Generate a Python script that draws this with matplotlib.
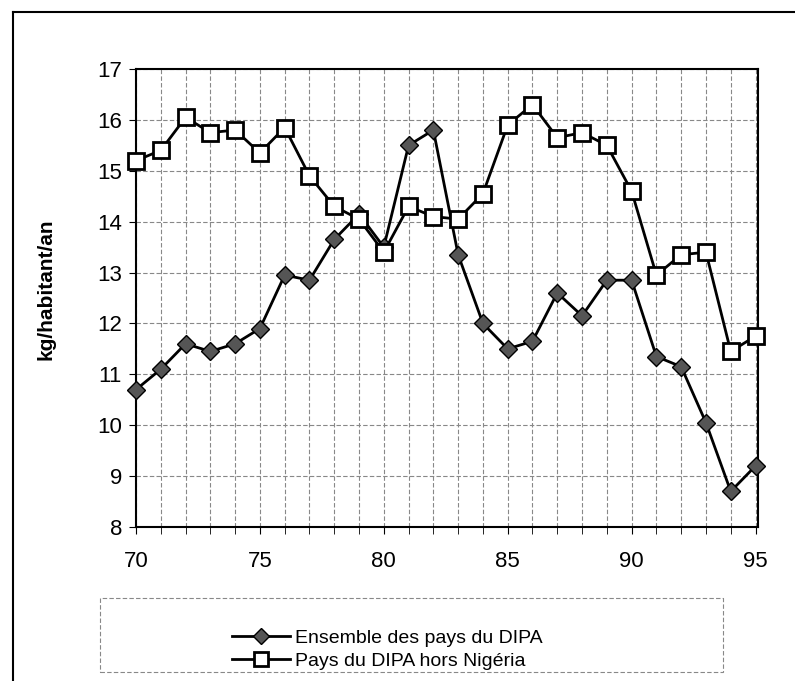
import numpy as np
import matplotlib.pyplot as plt
from matplotlib.patches import Rectangle
from matplotlib.lines import Line2D

plt.rcParams['font.family'] = ['Liberation Sans', 'DejaVu Sans']

years = list(range(70, 96))
ensemble = [10.7, 11.1, 11.6, 11.45, 11.6, 11.9, 12.95, 12.85, 13.65, 14.15,
            13.5, 15.5, 15.8, 13.35, 12.0, 11.5, 11.65, 12.6, 12.15, 12.85,
            12.85, 11.35, 11.15, 10.05, 8.7, 9.2]
hors_nigeria = [15.2, 15.4, 16.05, 15.75, 15.8, 15.35, 15.85, 14.9, 14.3, 14.05,
                13.4, 14.3, 14.1, 14.05, 14.55, 15.9, 16.3, 15.65, 15.75, 15.5,
                14.6, 12.95, 13.35, 13.4, 11.45, 11.75]
label_ensemble = "Ensemble des pays du DIPA"
label_hors = "Pays du DIPA hors Nigéria"

fig = plt.figure(figsize=(7.95, 6.81), dpi=100)
ax = fig.add_axes([136 / 795, 1 - 527 / 681, 622 / 795, 458 / 681])

ax.plot(years, ensemble, color='black', lw=2, marker='D', markersize=9,
        markerfacecolor='#555555', markeredgecolor='black', markeredgewidth=1,
        label=label_ensemble, zorder=3, clip_on=False)
ax.plot(years, hors_nigeria, color='black', lw=2, marker='s', markersize=11.5,
        markerfacecolor='white', markeredgecolor='black', markeredgewidth=2,
        label=label_hors, zorder=4, clip_on=False)

ax.set_xlim(70, 95.1)
ax.set_ylim(8, 17)
ax.set_xticks(range(70, 96, 5))
ax.set_xticks(years, minor=True)
ax.set_yticks(range(8, 18))
ax.grid(True, which='both', color='#888888', linestyle=(0, (4, 2)), lw=0.8)
ax.tick_params(axis='both', which='both', direction='out', labelsize=16, length=5)
ax.tick_params(axis='x', which='major', pad=12)
ax.tick_params(axis='y', which='major', pad=5)
ax.set_ylabel("kg/habitant/an", fontsize=15, fontweight='bold')
ax.yaxis.set_label_coords(-0.13, 0.52)
for s in ax.spines.values():
    s.set_linewidth(1.5)
    s.set_color('black')

# legend with dashed frame
fig.patches.append(Rectangle((100 / 795, 1 - 672 / 681), 623 / 795, 74 / 681,
                             transform=fig.transFigure, fill=False,
                             edgecolor='#888888', lw=0.8, linestyle=(0, (4, 2))))
fig.legend(handles=ax.get_lines(), loc='center', bbox_to_anchor=(0.487, 0.046),
           frameon=False, fontsize=14, handlelength=3.0, handletextpad=0.25,
           labelspacing=0.25, markerscale=0.9)

# outer border of the scanned figure
fig.add_artist(Line2D([13 / 795, 13 / 795], [0, 1 - 12 / 681],
                      transform=fig.transFigure, color='black', lw=1.5))
fig.add_artist(Line2D([13 / 795, 1], [1 - 12 / 681, 1 - 12 / 681],
                      transform=fig.transFigure, color='black', lw=1.5))

fig.savefig("out.png", dpi=100)
